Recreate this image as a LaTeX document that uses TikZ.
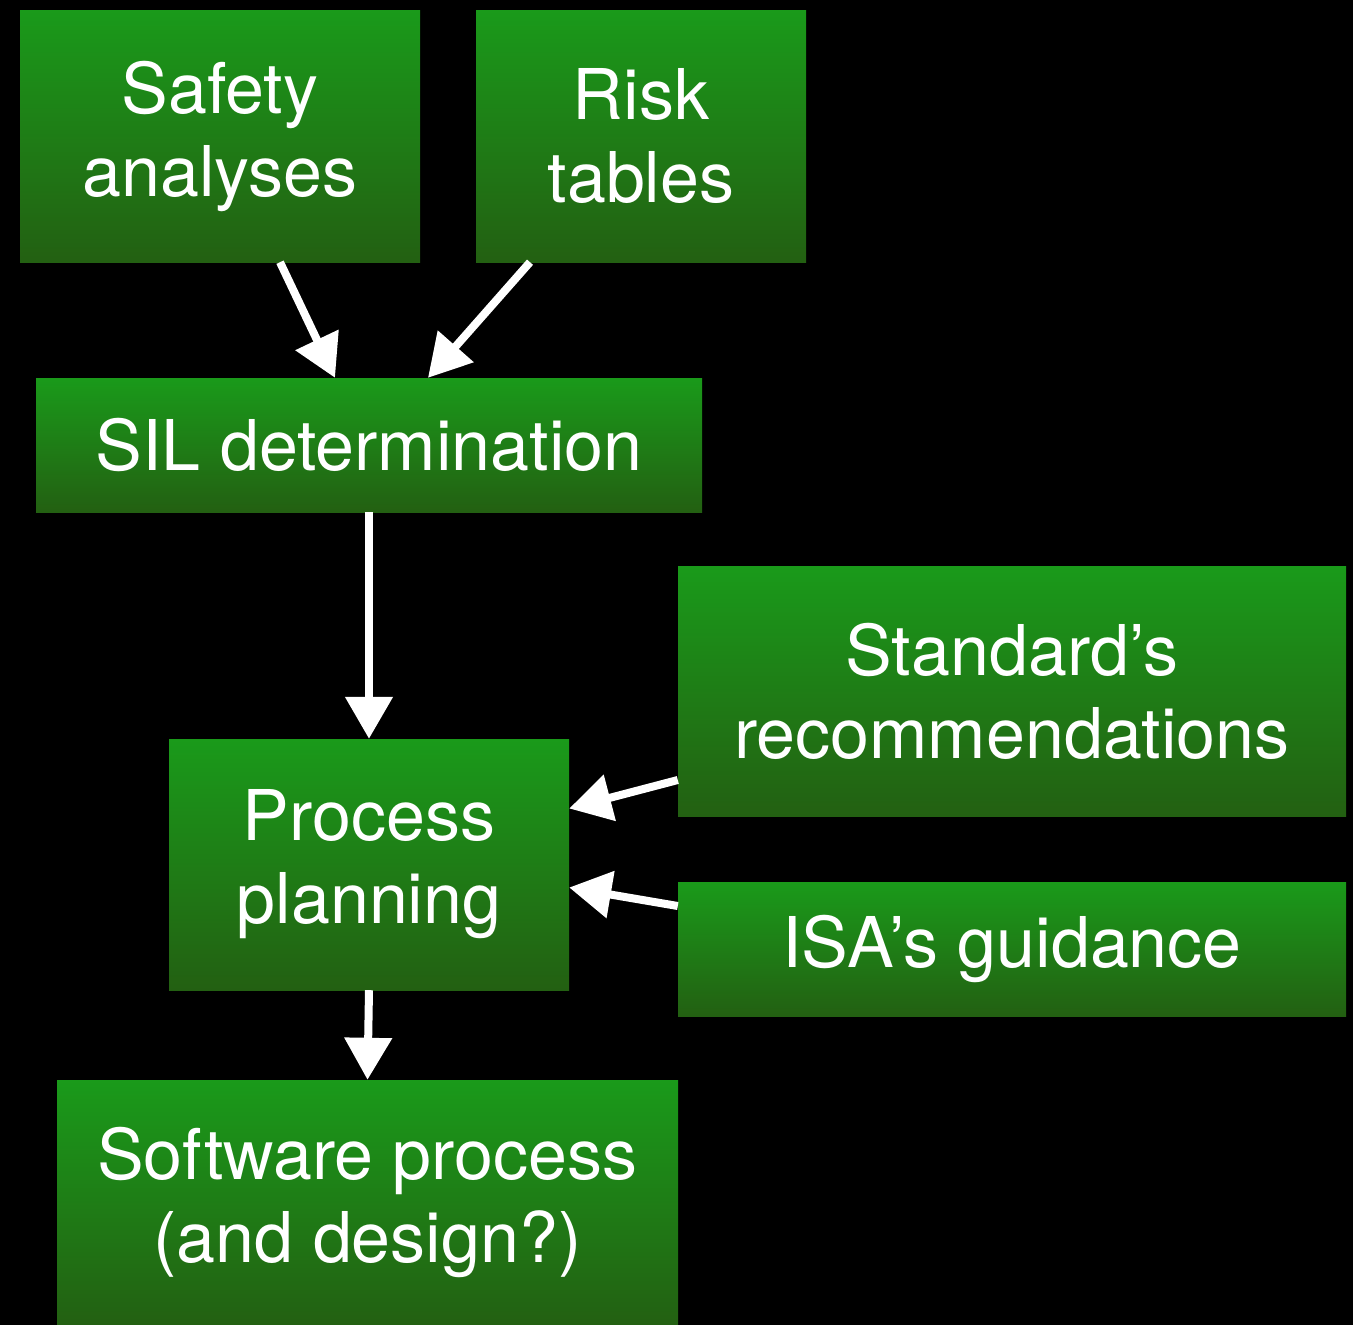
\documentclass[tikz,border=0pt]{standalone}
\usepackage{fontspec}
\setmainfont{TeX Gyre Heros}
\usetikzlibrary{arrows.meta}
\definecolor{boxtop}{RGB}{26,154,26}
\definecolor{boxbottom}{RGB}{35,96,18}
\tikzset{>={Triangle[length=42pt,width=46pt]}}
\tikzset{greenbox/.style={top color=boxtop, bottom color=boxbottom, text=white, align=center, inner sep=0pt, font=\fontsize{70}{83}\selectfont},
    flow/.style={->, white, line width=8pt}}

\begin{document}
\begin{tikzpicture}[x=1pt, y=-1pt]
    \fill[black] (0,0) rectangle (1353,1325);
    \node[greenbox, minimum width=400pt, minimum height=252pt] (safety) at (220,136) {Safety\\analyses};
    \node[greenbox, minimum width=330pt, minimum height=252pt] (risk) at (641,136) {Risk\\tables};
    \node[greenbox, minimum width=666pt, minimum height=134pt] (sil) at (369,445) {SIL determination};
    \node[greenbox, minimum width=668pt, minimum height=250pt] (std) at (1012,691) {Standard’s\\recommendations};
    \node[greenbox, minimum width=400pt, minimum height=251pt] (proc) at (369,864.5) {Process\\planning};
    \node[greenbox, minimum width=668pt, minimum height=134pt] (isa) at (1012,949) {ISA’s guidance};
    \node[greenbox, minimum width=621pt, minimum height=245pt] (soft) at (367.5,1202.5) {Software process\\(and design?)};
    \draw[flow] ([xshift=60pt]safety.south) -- ([xshift=-34pt]sil.north);
    \draw[flow] ([xshift=-111pt]risk.south) -- ([xshift=59pt]sil.north);
    \draw[flow] (sil.south) -- (proc.north);
    \draw[flow] ([yshift=-89pt]std.west) -- ([yshift=56pt]proc.east);
    \draw[flow] ([yshift=43pt]isa.west) -- ([yshift=-23pt]proc.east);
    \draw[flow] (proc.south) -- (soft.north);
\end{tikzpicture}
\end{document}
